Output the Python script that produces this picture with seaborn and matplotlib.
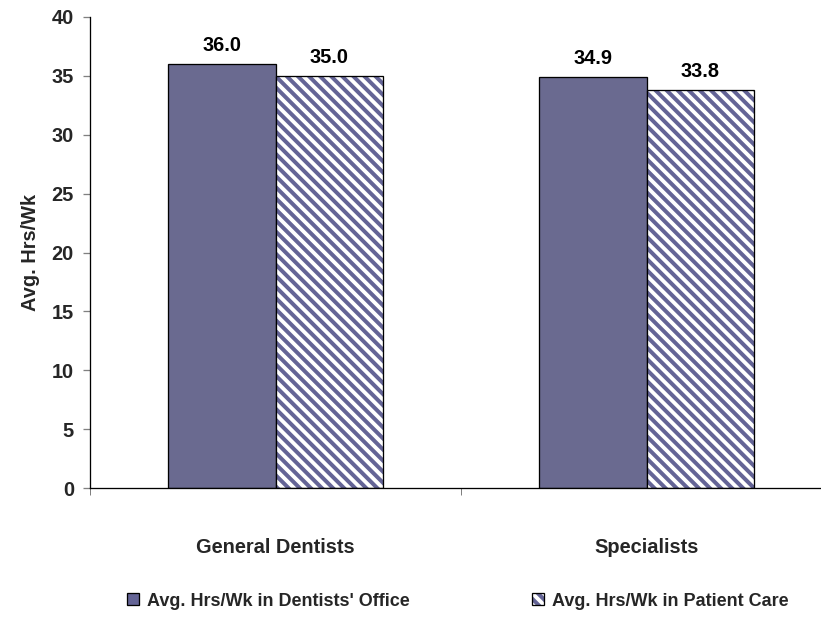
import matplotlib
matplotlib.use("Agg")
import matplotlib.pyplot as plt
import seaborn as sns
import pandas as pd
from matplotlib.patches import Patch, Rectangle
from matplotlib.legend_handler import HandlerTuple

categories = ["General Dentists", "Specialists"]
series_names = ["Avg. Hrs/Wk in Dentists' Office", "Avg. Hrs/Wk in Patient Care"]
office_hours = [36.0, 34.9]
patient_hours = [35.0, 33.8]
y_ticks = [0, 5, 10, 15, 20, 25, 30, 35, 40]

DPI = 133.33
def px(v):
    return v * 72.0 / DPI

PURPLE = "#646496"

sns.set_theme(style="white")
plt.rcParams["font.family"] = ["Liberation Sans", "DejaVu Sans"]
plt.rcParams["font.weight"] = "bold"
plt.rcParams["hatch.linewidth"] = px(4.0)

df = pd.DataFrame({
    "cat": categories * 2,
    "series": [series_names[0]] * 2 + [series_names[1]] * 2,
    "val": office_hours + patient_hours,
})

fig = plt.figure(figsize=(821 / DPI, 617 / DPI), dpi=DPI)
ax = fig.add_axes([90 / 821, 1 - 488 / 617, 742 / 821, (488 - 17) / 617])

sns.barplot(data=df, x="cat", y="val", hue="series", order=categories,
            hue_order=series_names, palette=[PURPLE, PURPLE], width=0.577,
            gap=0, edgecolor="black", linewidth=px(1.3), ax=ax, legend=False)

c_office, c_patient = ax.containers[0], ax.containers[1]
for bar in c_patient:
    bar.set_facecolor("white")
    bar.set_edgecolor(PURPLE)
    bar.set_hatch("\\\\\\\\")
    bar.set_linewidth(0)
    ax.add_patch(Rectangle((bar.get_x(), bar.get_y()), bar.get_width(), bar.get_height(),
                           fill=False, edgecolor="black", linewidth=px(1.3), zorder=bar.get_zorder() + 0.1))

fs = px(20)
for cont in (c_office, c_patient):
    ax.bar_label(cont, fmt="%.1f", padding=px(9), fontsize=fs, fontweight="bold", color="black")

ax.set_xlim(-0.5, 1.5)
ax.set_ylim(0, 40)
ax.set_yticks(y_ticks)
ax.set_yticklabels([str(t) for t in y_ticks], fontsize=fs, fontweight="bold")
ax.set_xticks([0, 1])
ax.set_xticklabels(categories, fontsize=fs, fontweight="bold")
ax.set_xticks([-0.5, 0.5, 1.5], minor=True)
ax.tick_params(axis="x", which="major", length=0, pad=px(50))
ax.tick_params(axis="x", which="minor", length=px(7), width=px(1), color="#808080", direction="out", bottom=True)
ax.tick_params(axis="y", which="major", length=px(7), width=px(1.3), color="#808080", direction="out", left=True, pad=px(9))
ax.set_xlabel("")
ax.set_ylabel("Avg. Hrs/Wk", fontsize=fs, fontweight="bold", labelpad=px(12))
for s in ["top", "right"]:
    ax.spines[s].set_visible(False)
for s in ["left", "bottom"]:
    ax.spines[s].set_color("black")
    ax.spines[s].set_linewidth(px(1.3))
ax.grid(False)

h1 = Patch(facecolor=PURPLE, edgecolor="black", linewidth=px(1.3))
h2_fill = Patch(facecolor="white", edgecolor=PURPLE, hatch="\\\\\\\\", linewidth=0)
h2_edge = Patch(facecolor="none", edgecolor="black", linewidth=px(1.3))
fs_leg = px(18)
fig.legend(handles=[h1, (h2_fill, h2_edge)], labels=series_names,
           handler_map={tuple: HandlerTuple(ndivide=1, pad=0)},
           loc="center left", bbox_to_anchor=(111 / 821, 1 - 601 / 617),
           ncol=2, frameon=False, handlelength=0.65, handleheight=0.65,
           handletextpad=0.45, columnspacing=6.8, prop={"weight": "bold", "size": fs_leg})

fig.savefig("out.png", dpi=DPI)
